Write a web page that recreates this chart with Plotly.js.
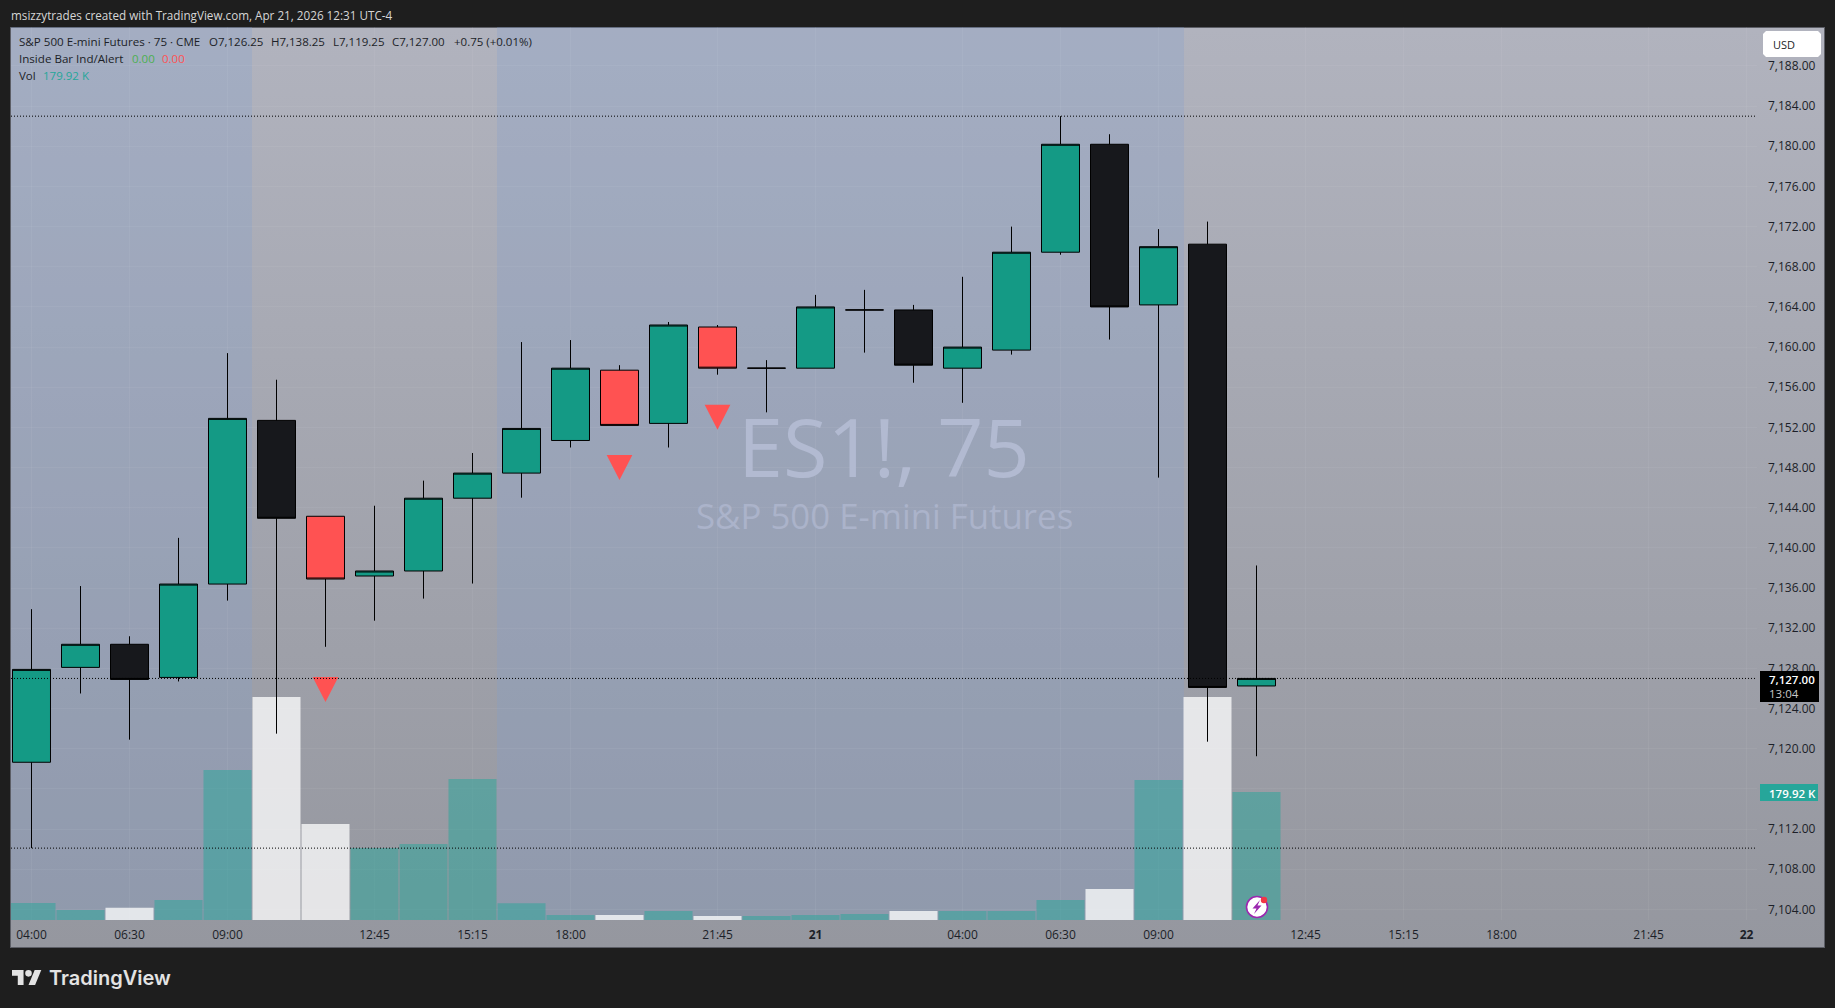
<!DOCTYPE html>
<html>
<head>
<meta charset="utf-8">
<script src="https://cdn.plot.ly/plotly-3.0.1.min.js"></script>
<style>
  html, body { margin: 0; padding: 0; background: #1e1e1e; overflow: hidden; }
  #frame { position: absolute; left: 10px; top: 27px; width: 1815px; height: 921px; box-sizing: border-box;
           border: 1px solid #5c5e66; background: linear-gradient(180deg, #b1b3be 0%, #95979f 100%); }
  #graph_panel { position: absolute; left: 0; top: 0; width: 1835px; height: 1008px; }
</style>
</head>
<body>
<div id="frame"></div>
<div id="graph_panel"></div>
<script>
// 75 minute bars
var opens  = [7118.65, 7128.1, 7130.4, 7127.1, 7136.4, 7152.7, 7143.15, 7137.2, 7137.7, 7144.95, 7147.45, 7150.7, 7157.7, 7152.4, 7162, 7157.9, 7157.9, 7163.7, 7163.7, 7157.9, 7159.7, 7169.45, 7180.2, 7164.2, 7170.25, 7126.25];
var highs  = [7133.9, 7136.2, 7131.2, 7141, 7159.4, 7156.75, 7143.15, 7144.2, 7146.7, 7149.45, 7160.5, 7160.7, 7158.2, 7162.5, 7162.2, 7158.7, 7165.2, 7165.7, 7164.2, 7167, 7172, 7183, 7181.2, 7171.75, 7172.5, 7138.25];
var lows   = [7110.1, 7125.5, 7120.9, 7126.7, 7134.75, 7121.5, 7130.15, 7132.75, 7134.95, 7136.45, 7145, 7150, 7152.2, 7150, 7157.25, 7153.5, 7157.9, 7159.45, 7156.45, 7154.45, 7159.25, 7169.2, 7160.75, 7147, 7120.7, 7119.25];
var closes = [7127.9, 7130.4, 7126.9, 7136.4, 7152.9, 7142.95, 7136.9, 7137.7, 7144.95, 7147.45, 7151.9, 7157.9, 7152.2, 7162.2, 7157.9, 7157.9, 7164, 7163.7, 7158.2, 7160, 7169.45, 7180.2, 7164, 7170, 7126.1, 7127];
var volumes = [23.9, 14, 17.3, 28.1, 210.8, 313.4, 134.9, 101.2, 106.8, 198.2, 23.5, 7, 7, 12.7, 5.6, 5.6, 7, 8.4, 12.7, 12.7, 12.7, 28.1, 43.6, 196.8, 313.4, 179.92];
var insideBars = [6, 12, 14];
var signalBars = [6, 12, 14];
var signalTops = [7127.15, 7149.25, 7154.25];
var hLevels = [7183, 7127, 7110.1];
var sessionZones = [[-1, 4.5], [9.5, 23.52]];
var timeTicks = [0, 2, 4, 7, 9, 11, 14, 16, 19, 21, 23, 26, 28, 30, 33, 35];
var timeLabels = ['04:00', '06:30', '09:00', '12:45', '15:15', '18:00', '21:45', '<b>21</b>', '04:00', '06:30', '09:00', '12:45', '15:15', '18:00', '21:45', '<b>22</b>'];

var GREEN = '#149a85', BLACK = '#17181c', RED = '#ff5252', TEXT = '#1c1f28';
var FONT = '"Open Sans", sans-serif';
var W = 1835, H = 1008, L = 11, R = 1757, T = 27, B = 920;

function X(px) { return (px - L) / (R - L); }
function Y(py) { return 1 - (py - T) / (B - T); }

function pxRect(x0, y0, x1, y1, fill) {
  return { type: 'rect', xref: 'paper', yref: 'paper', x0: X(x0), x1: X(x1), y0: Y(y0), y1: Y(y1), fillcolor: fill, line: { width: 0 }, layer: 'above' };
}
function pxCircle(cx, cy, r, fill, stroke) {
  return { type: 'circle', xref: 'paper', yref: 'paper', x0: X(cx - r), x1: X(cx + r), y0: Y(cy - r), y1: Y(cy + r), fillcolor: fill,
           line: { width: stroke ? 1.6 : 0, color: stroke || fill }, layer: 'above' };
}
function pxPath(points, fill) {
  var d = points.map(function (p, i) { return (i ? 'L' : 'M') + X(p[0]) + ',' + Y(p[1]); }).join(' ') + ' Z';
  return { type: 'path', xref: 'paper', yref: 'paper', path: d, fillcolor: fill, line: { width: 0 }, layer: 'above' };
}
function label(text, px, py, size, color, anchor, weight) {
  return { text: text, xref: 'paper', yref: 'paper', x: X(px), y: Y(py), xanchor: anchor || 'left', yanchor: 'middle', showarrow: false, borderpad: 0,
           font: { family: FONT, size: size, color: color, weight: weight || 400 } };
}

function candleTrace(color, keep) {
  var idx = opens.map(function (v, i) { return i; }).filter(keep);
  var side = { line: { color: '#000000', width: 1 }, fillcolor: color };
  return {
    type: 'candlestick', yaxis: 'y2', xaxis: 'x', whiskerwidth: 0,
    x: idx,
    open: idx.map(function (i) { return opens[i]; }),
    high: idx.map(function (i) { return highs[i]; }),
    low: idx.map(function (i) { return lows[i]; }),
    close: idx.map(function (i) { return closes[i]; }),
    increasing: side, decreasing: side, showlegend: false, hoverinfo: 'skip'
  };
}
function isInside(i) { return insideBars.indexOf(i) >= 0; }

function createGraph() {
  var volume = {
    type: 'bar', x: volumes.map(function (v, i) { return i; }), y: volumes, yaxis: 'y', xaxis: 'x',
    marker: { color: volumes.map(function (v, i) { return closes[i] < opens[i] ? 'rgba(255,255,255,0.75)' : 'rgba(38,166,154,0.5)'; }), line: { width: 0 } },
    showlegend: false, hoverinfo: 'skip'
  };

  // inside bar alerts, triangles hanging below the given price
  var triX = [], triY = [];
  signalBars.forEach(function (b, i) {
    triX.push(b - 0.262, b + 0.262, b, null);
    triY.push(signalTops[i], signalTops[i], signalTops[i] - 2.49, null);
  });
  var triangles = { type: 'scatter', mode: 'lines', x: triX, y: triY, yaxis: 'y2', xaxis: 'x', fill: 'toself', fillcolor: RED, line: { width: 0, color: RED }, showlegend: false, hoverinfo: 'skip' };

  var data = [
    volume,
    candleTrace(GREEN, function (i) { return !isInside(i) && closes[i] >= opens[i]; }),
    candleTrace(BLACK, function (i) { return !isInside(i) && closes[i] < opens[i]; }),
    candleTrace(RED, isInside),
    triangles
  ];

  var shapes = sessionZones.map(function (z) {
    return { type: 'rect', xref: 'x', yref: 'paper', x0: z[0], x1: z[1], y0: 0, y1: 1, fillcolor: 'rgba(130,160,208,0.27)', line: { width: 0 }, layer: 'below' };
  });
  hLevels.forEach(function (p) {
    shapes.push({ type: 'line', xref: 'paper', yref: 'y2', x0: 0, x1: 1, y0: p, y1: p, line: { color: '#000000', width: 1, dash: '1px,2px' }, layer: 'above' });
  });
  // price scale badges
  shapes.push(pxRect(1760, 671, 1819, 702, '#000000'));
  shapes.push(pxRect(1760, 784, 1818, 801, '#26a69a'));
  shapes.push(pxPath([[1766, 31], [1818, 31], [1821, 34], [1821, 54], [1818, 57], [1766, 57], [1763, 54], [1763, 34]], '#ffffff'));
  // lightning badge
  shapes.push(pxCircle(1257, 907, 10.5, '#ffffff', '#9c27b0'));
  shapes.push(pxPath([[1260, 900], [1252.5, 908.5], [1256.5, 908.5], [1254, 914], [1261.5, 905.5], [1257.5, 905.5]], '#9c27b0'));
  shapes.push(pxCircle(1264, 900, 3.2, '#f23645'));
  // TradingView logo
  function logo(u, v) { return [12 + 0.825 * u, 970 + 0.833 * (v - 4)]; }
  shapes.push(pxPath([logo(14, 22), logo(7, 22), logo(7, 11), logo(0, 11), logo(0, 4), logo(14, 4)], '#e3e3e3'));
  shapes.push(pxPath([logo(28, 22), logo(20, 22), logo(27.5, 4), logo(35.5, 4)], '#e3e3e3'));
  shapes.push(pxCircle(logo(20, 8)[0], logo(20, 8)[1], 3.3, '#e3e3e3'));

  var annotations = [
    label('msizzytrades created with TradingView.com, Apr 21, 2026 12:31 UTC-4', 10, 15, 11.7, '#d6d6d6'),
    label('S&P 500 E-mini Futures · 75 · CME', 17.5, 42, 11.6, TEXT),
    label('O7,126.25', 208, 42, 11.5, TEXT),
    label('H7,138.25', 270, 42, 11.5, TEXT),
    label('L7,119.25', 332, 42, 11.5, TEXT),
    label('C7,127.00', 391, 42, 11.5, TEXT),
    label('+0.75 (+0.01%)', 453, 42, 11.5, TEXT),
    label('Inside Bar Ind/Alert', 17.5, 59, 11.6, TEXT),
    label('0.00', 131, 59, 11.5, '#4caf50'),
    label('0.00', 161, 59, 11.5, RED),
    label('Vol', 17.5, 75, 11.5, TEXT),
    label('179.92 K', 41.5, 75, 11.5, '#26a69a'),
    label('ES1!, 75', 884, 445, 81, '#b2bad1', 'center'),
    label('S&P 500 E-mini Futures', 884, 515, 34.8, '#abb3ca', 'center'),
    label('USD', 1772, 44, 11, TEXT),
    label('7,127.00', 1768, 679, 11.5, '#ffffff', 'left', 600),
    label('13:04', 1768, 693, 11.5, '#c8c8c8'),
    label('179.92 K', 1768, 793, 11.5, '#ffffff', 'left', 600),
    { text: 'TradingView', xref: 'paper', yref: 'paper', x: X(48), y: Y(978), xanchor: 'left', yanchor: 'middle', showarrow: false, borderpad: 0,
      font: { family: 'Inter, sans-serif', size: 20, color: '#e3e3e3', weight: 600 } }
  ];

  var layout = {
    width: W, height: H, margin: { l: L, r: W - R, t: T, b: H - B, pad: 0 },
    paper_bgcolor: 'rgba(0,0,0,0)', plot_bgcolor: 'rgba(0,0,0,0)',
    showlegend: false, barmode: 'overlay', bargap: 0.02, boxmode: 'overlay', boxgap: 0.225, boxgroupgap: 0,
    font: { family: FONT, size: 12, color: TEXT },
    xaxis: { type: 'linear', range: [(L - 31.5) / 49, (R - 31.5) / 49], tickmode: 'array', tickvals: timeTicks, ticktext: timeLabels, ticks: '',
             showline: false, zeroline: false, showgrid: true, gridcolor: 'rgba(255,255,255,0.05)', rangeslider: { visible: false }, ticklabelstandoff: 6,
             tickfont: { family: FONT, size: 12, color: TEXT } },
    yaxis: { visible: false, range: [0, 1255.2], fixedrange: true },
    yaxis2: { overlaying: 'y', side: 'right', range: [7102.94, 7191.88], tick0: 7104, dtick: 4, tickformat: ',.2f', ticks: '', showline: false, zeroline: false,
              showgrid: true, gridcolor: 'rgba(255,255,255,0.05)', ticklabelstandoff: 10, tickfont: { family: FONT, size: 12, color: TEXT } },
    shapes: shapes, annotations: annotations
  };
  Plotly.newPlot('graph_panel', data, layout, { staticPlot: true });
}

createGraph();
</script>
</body>
</html>
